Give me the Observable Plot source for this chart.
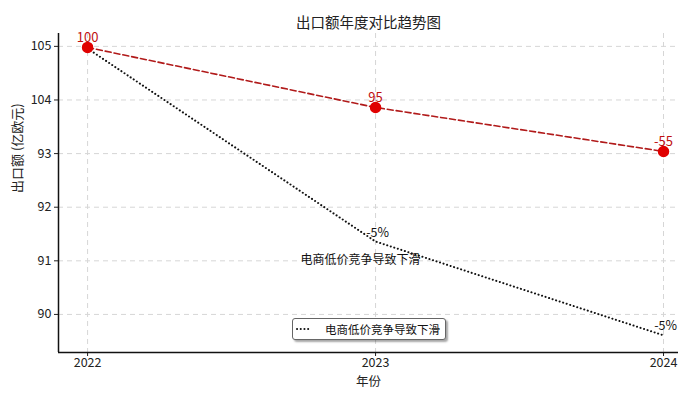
<!DOCTYPE html>
<html>
<head>
<meta charset="utf-8">
<script src="https://cdn.jsdelivr.net/npm/d3@7"></script>
<script src="https://cdn.jsdelivr.net/npm/@observablehq/plot@0.6"></script>
<style>
  body { margin: 0; background: #fff; font-family: "Noto Sans CJK SC", "Noto Sans", sans-serif; }
  #wrap { position: relative; width: 700px; height: 393px; }
  #legend {
    position: absolute; left: 292px; top: 318px; width: 152px; height: 20px;
    border: 1px solid #666; border-radius: 3px; background: #fff;
    box-shadow: 2px 2px 2px rgba(0,0,0,0.35);
    display: flex; align-items: center; font-size: 11.5px; color: #111;
    white-space: nowrap; overflow: hidden; box-sizing: content-box;
  }
  #legend svg { margin-left: 3px; margin-right: 13px; flex: none; }
</style>
</head>
<body>
<div id="wrap"></div>
<script>
const title = "出口额年度对比趋势图";
const xTitle = "年份";
const yTitle = "出口额 (亿欧元)";
const years = [2022, 2023, 2024];
// positions on the (evenly spaced, custom-labelled) y axis: 0 = "90" ... 5 = "105"
const yTickPositions = [0, 1, 2, 3, 4, 5];
const yTickLabels = ["90", "91", "92", "93", "104", "105"];
const exportValues = [4.98, 3.86, 3.04];
const exportLabels = ["100", "95", "-55"];
const ecomValues = [4.96, 1.36, -0.39];
const ecomLabels = ["", "-5%", "-5%"];
const annotationText = "电商低价竞争导致下滑";
const legendText = "电商低价竞争导致下滑";

const xDomain = [2021.899, 2024.052];
const yDomain = [-0.71, 5.24];

const red = years.map((y, i) => ({year: y, v: exportValues[i], label: exportLabels[i]}));
const ecom = years.map((y, i) => ({year: y, v: ecomValues[i], label: ecomLabels[i]}));
const font = "Noto Sans CJK SC, Noto Sans, sans-serif";

const chart = Plot.plot({
  width: 700,
  height: 393,
  marginTop: 33,
  marginBottom: 41,
  marginLeft: 58,
  marginRight: 22,
  style: {fontFamily: font, fontSize: "12.5px", color: "#222", background: "#fff"},
  x: {domain: xDomain},
  y: {domain: yDomain},
  marks: [
    Plot.gridX(years, {stroke: "#d6d6d6", strokeOpacity: 1, strokeDasharray: "5,4"}),
    Plot.gridY(yTickPositions, {stroke: "#d6d6d6", strokeOpacity: 1, strokeDasharray: "5,4"}),
    Plot.axisX(years, {tickFormat: d => String(d), tickSize: 4, label: null, fontSize: 12.5, tickPadding: 2}),
    Plot.axisY(yTickPositions, {tickFormat: d => yTickLabels[d], tickSize: 4, label: null, fontSize: 12.5, tickPadding: 3}),
    Plot.ruleX([xDomain[0]], {stroke: "#111", strokeWidth: 1.5}),
    Plot.ruleY([yDomain[0]], {stroke: "#111", strokeWidth: 1.5}),
    Plot.line(ecom, {x: "year", y: "v", stroke: "#111", strokeWidth: 2, strokeDasharray: "0.1,3.6", strokeLinecap: "round"}),
    Plot.line(red, {x: "year", y: "v", stroke: "#b11a1a", strokeWidth: 1.6, strokeDasharray: "6,3"}),
    Plot.dot(red, {x: "year", y: "v", r: 5, fill: "#e00000", stroke: "#e00000"}),
    Plot.text(red, {x: "year", y: "v", text: "label", dy: -10, fill: "#c01010", fontSize: 13}),
    Plot.text(ecom, {x: "year", y: "v", text: "label", dx: 2, dy: -9, fill: "#111", fontSize: 12.5}),
    Plot.text([annotationText], {x: () => years[1], y: () => ecomValues[1], text: d => d, dx: -15, dy: 19, fill: "#111", fontSize: 12}),
    Plot.text([title], {frameAnchor: "top", text: d => d, dy: -16, fontSize: 14.5, fill: "#222"}),
    Plot.text([xTitle], {frameAnchor: "bottom", text: d => d, dy: 33, fontSize: 12.5, fill: "#222"}),
    Plot.text([yTitle], {frameAnchor: "left", text: d => d, dx: -41, rotate: -90, fontSize: 13, fill: "#222"})
  ]
});
const wrap = document.getElementById("wrap");
wrap.appendChild(chart);

const legend = document.createElement("div");
legend.id = "legend";
legend.innerHTML = `<svg width="16" height="6"><line x1="1" y1="3" x2="15" y2="3" stroke="#111" stroke-width="2" stroke-dasharray="0.1,3.6" stroke-linecap="round"/></svg><span>${legendText}</span>`;
wrap.appendChild(legend);
</script>
</body>
</html>
